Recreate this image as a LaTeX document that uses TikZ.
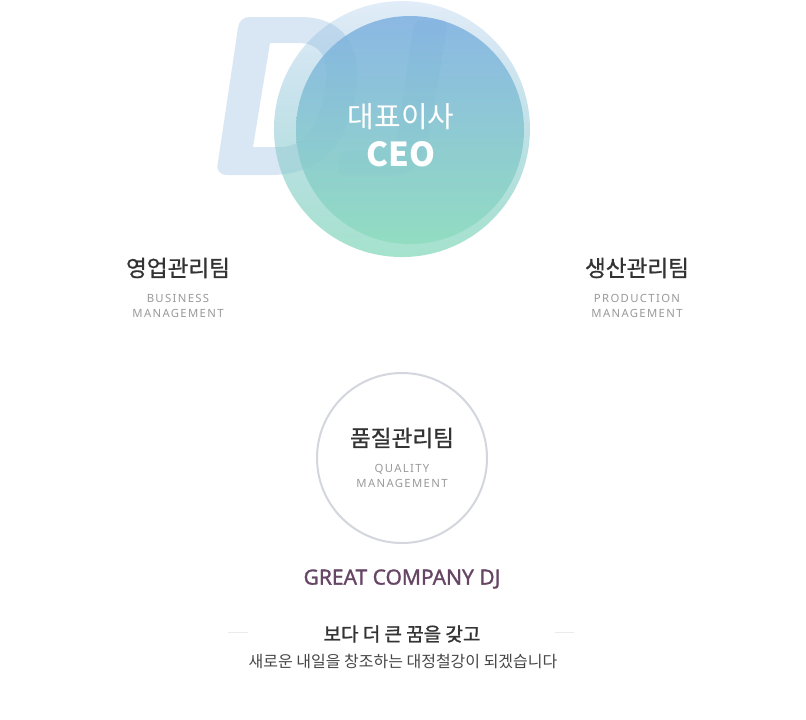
\documentclass[tikz,border=0pt]{standalone}
\usepackage{fontspec}
\setmainfont{Noto Sans}
\newfontfamily\kr{Noto Sans CJK KR}
\newfontfamily\spaced[LetterSpace=12]{Noto Sans}
\usetikzlibrary{fadings}
\definecolor{djc}{HTML}{D9E6F3}
\definecolor{gblue}{HTML}{7AAEE0}
\definecolor{ggreen}{HTML}{8EDCBF}
\definecolor{titc}{HTML}{333333}
\definecolor{subc}{HTML}{9A9A9A}
\definecolor{ringc}{HTML}{D3D7DD}
\definecolor{greatc}{HTML}{664565}
\definecolor{linec}{HTML}{EAEAEA}
\tikzfading[name=afade, top color=transparent!78, bottom color=transparent!20]
\tikzset{
  teamtitle/.style={text=titc, inner sep=0pt, font=\kr\fontsize{22.6}{26}\selectfont\addfontfeature{FakeBold=0.8}},
  teamsub/.style={text=subc, inner sep=0pt, align=center, font=\spaced\fontsize{11.3}{15.5}\selectfont},
}
\begin{document}
\begin{tikzpicture}[x=1pt,y=-1pt]
\useasboundingbox (0,0) rectangle (806,720);
\fill[white] (0,0) rectangle (806,720);
% DJ letters
\fill[djc, even odd rule]
  (250,17) -- (300,17) .. controls (345,17) and (362,48) .. (356,90)
  .. controls (348,145) and (320,175) .. (270,175) -- (228,175)
  .. controls (219,175) and (216,170) .. (218,162) -- (238,28)
  .. controls (239,21) and (243,17) .. (250,17) -- cycle
  (270,43) -- (298,43) .. controls (322,43) and (330,60) .. (325,88)
  .. controls (320,125) and (305,147) .. (280,147) -- (253,147) -- cycle;
\fill[djc]
  (420,20) -- (440,20) .. controls (446,20) and (448,24) .. (447,30)
  -- (428,140) .. controls (424,162) and (412,176) .. (390,176) -- (346,176)
  .. controls (340,176) and (337,172) .. (338,166) -- (340,156)
  .. controls (341,152) and (343,150) .. (348,150) -- (388,150)
  .. controls (393,150) and (395,147) .. (396,142) -- (413,30)
  .. controls (414,23) and (416,20) .. (420,20) -- cycle;
% circles
\path[top color=gblue, bottom color=ggreen, path fading=afade] (402,129) circle[radius=128];
\path[top color=gblue, bottom color=ggreen, fill opacity=0.82] (410,130) circle[radius=114];
\node[text=white, inner sep=0pt, font=\kr\fontsize{29}{32}\selectfont] (ceokr) at (401,117) {대표이사};
\node[text=white, inner sep=0pt, font=\kr\bfseries\fontsize{33}{36}\selectfont] (ceo) at (401,154) {CEO};
% teams
\node[teamtitle] (sales) at (178,268) {영업관리팀};
\node[teamsub] (salessub) at (178,306) {BUSINESS\\MANAGEMENT};
\node[teamtitle] (prod) at (637,268) {생산관리팀};
\node[teamsub] (prodsub) at (637,306) {PRODUCTION\\MANAGEMENT};
\node[draw=ringc, line width=2pt, circle, minimum size=170pt, inner sep=0pt] (qring) at (402,458) {};
\node[teamtitle] (qual) at (402,438) {품질관리팀};
\node[teamsub] (qualsub) at (402,476) {QUALITY\\MANAGEMENT};
% slogan
\node[text=greatc, inner sep=0pt, font=\fontsize{21}{24}\selectfont\addfontfeature{FakeBold=1.2}] (great) at (402,579) {GREAT COMPANY DJ};
\node[text=titc, inner sep=0pt, font=\kr\fontsize{19}{22}\selectfont\addfontfeature{FakeBold=1.3}] (slogan1) at (402,634) {보다 더 큰 꿈을 갖고};
\node[text=titc!90, inner sep=0pt, font=\kr\fontsize{16}{19}\selectfont] (slogan2) at (403,662) {새로운 내일을 창조하는 대정철강이 되겠습니다};
\coordinate (l1a) at (228,632); \coordinate (l1b) at (248,632);
\coordinate (l2a) at (555,632); \coordinate (l2b) at (574,632);
\draw[linec, line width=1pt] (l1a) -- (l1b);
\draw[linec, line width=1pt] (l2a) -- (l2b);
\end{tikzpicture}
\end{document}
